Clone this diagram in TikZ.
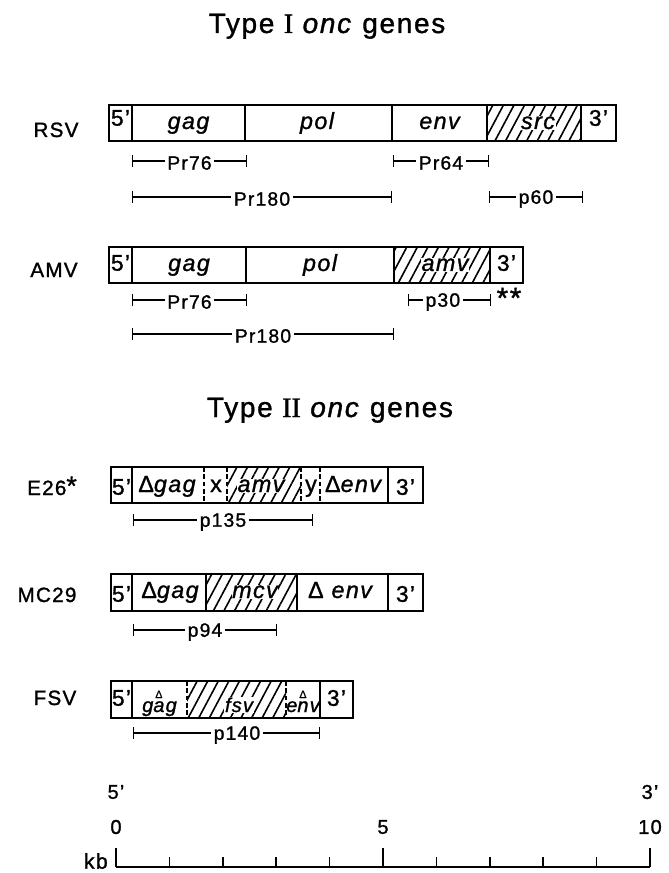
\documentclass[tikz,border=0pt]{standalone}
\usepackage{fontspec}
\setmainfont{Liberation Sans}[LetterSpace=6,FakeBold=1.2]
\newfontfamily\romanI{Liberation Serif}[FakeBold=1.2]
\usetikzlibrary{arrows.meta,patterns.meta}

\newlength\dwd
\newcommand\delover[1]{%
  \settowidth\dwd{#1}%
  \rlap{\raisebox{0.7em}{\makebox[\dwd]{\upshape\fontsize{8}{8}\selectfont Δ}}}#1}

\begin{document}
\begin{tikzpicture}[
    x=0.75pt,
    y=-0.75pt,
    box/.style={draw=black,line width=1.4pt},
    hatch/.style={pattern={Lines[angle=62,distance=7pt,line width=1.2pt]}},
    cut/.style={line width=1.4pt},
    dcut/.style={line width=1.4pt,dash pattern=on 3.5pt off 2pt},
    virus/.style={font=\fontsize{15.5}{18}\selectfont,anchor=base},
    gene/.style={font=\fontsize{17.5}{20}\selectfont\itshape,anchor=base,inner sep=0.5pt},
    sgene/.style={font=\fontsize{15}{18}\selectfont\itshape,anchor=base,inner sep=0.5pt},
    plain/.style={font=\fontsize{17.5}{20}\selectfont,anchor=base,inner sep=0.5pt},
    onhatch/.style={fill=white},
    ltr/.style={font=\fontsize{17}{19}\selectfont,inner sep=0pt},
    prot/.style={font=\fontsize{14.5}{16}\selectfont,fill=white,inner xsep=2pt,inner ysep=0pt,yshift=-1.5pt},
    span/.style={line width=1.1pt,{Bar[width=9pt]}-{Bar[width=9pt]}},
    heading/.style={font=\fontsize{21}{24}\selectfont,anchor=base},
    scl/.style={font=\fontsize{15}{17}\selectfont,inner sep=0pt}
]

\useasboundingbox (0,0) rectangle (668,873);

\node[heading] (typeI) at (327,33) {Type {\romanI I} \textit{onc} genes};

% RSV
\path[hatch] (487,105) rectangle (581,141);
\draw[box] (109,105) rectangle (616,141);
\foreach \cx in {132,245,392,487,581}
    \draw[cut] (\cx,105) -- (\cx,141);

\node[virus] (rsv) at (56,137) {RSV};
\node[ltr] (rsv5) at (120.5,118) {5'};
\node[gene] (rsvgag) at (188.5,129) {gag};
\node[gene] (rsvpol) at (317,129) {pol};
\node[gene] (rsvenv) at (439.5,129) {env};
\node[gene,onhatch] (rsvsrc) at (538,129) {src};
\node[ltr] (rsv3) at (598.5,118) {3'};

\draw[span] (132,161) -- node[prot] (rsvpr76) {Pr76} (247,161);
\draw[span] (393,161) -- node[prot] (rsvpr64) {Pr64} (489,161);
\draw[span] (132,197) -- node[prot] (rsvpr180) {Pr180} (392,197);
\draw[span] (489,197) -- node[prot] (rsvp60) {p60} (583,197);

% AMV
\path[hatch] (394,247) rectangle (490,283);
\draw[box] (109,247) rectangle (523,283);
\foreach \cx in {132,246,394,490}
    \draw[cut] (\cx,247) -- (\cx,283);

\node[virus] (amv) at (54,277) {AMV};
\node[ltr] (amv5) at (120.5,263) {5'};
\node[gene] (amvgag) at (189,271) {gag};
\node[gene] (amvpol) at (320,271) {pol};
\node[gene,onhatch] (amvamv) at (445,271) {amv};
\node[ltr] (amv3) at (506.5,263) {3'};

\draw[span] (132,300) -- node[prot] (amvpr76) {Pr76} (247,300);
\draw[span] (408,300) -- node[prot,pos=0.42] (amvp30) {p30} (491,300);
\draw[span] (132,334) -- node[prot] (amvpr180) {Pr180} (394,334);
\node[font=\fontsize{22}{22}\selectfont,anchor=base,inner sep=0pt] (stars) at (509,308) {**};

\node[heading] (typeII) at (330,417) {Type {\romanI II} \textit{onc} genes};

% E26
\path[hatch] (227,467) rectangle (301,503);
\draw[box] (111,467) rectangle (423,503);
\foreach \cx in {132,388}
    \draw[cut] (\cx,467) -- (\cx,503);
\foreach \cx in {204,227,301,320}
    \draw[dcut] (\cx,467) -- (\cx,503);

\node[virus] (e26) at (52,495) {E26{\fontsize{20}{20}\selectfont *}};
\node[ltr] (e265) at (121.5,487) {5'};
\node[gene] (e26gag) at (167,492) {{\upshape Δ}gag};
\node[plain] (e26x) at (216,492) {x};
\node[gene,onhatch] (e26amv) at (261,492) {amv};
\node[plain] (e26y) at (311,492) {y};
\node[gene] (e26env) at (353,492) {{\upshape Δ}env};
\node[ltr] (e263) at (405.5,487) {3'};

\draw[span] (133,520) -- node[prot] (e26p135) {p135} (313,520);

% MC29
\path[hatch] (206,574) rectangle (297,611);
\draw[box] (111,574) rectangle (423,611);
\foreach \cx in {132,206,297,388}
    \draw[cut] (\cx,574) -- (\cx,611);

\node[virus] (mc29) at (47,602) {MC29};
\node[ltr] (mc295) at (121.5,594) {5'};
\node[gene] (mc29gag) at (170,598) {{\upshape Δ}gag};
\node[gene,onhatch] (mc29mcv) at (255,598) {mcv};
\node[gene] (mc29env) at (340,598) {{\upshape Δ} env};
\node[ltr] (mc293) at (405.5,594) {3'};

\draw[span] (133,630) -- node[prot] (mc29p94) {p94} (277,630);

% FSV
\path[hatch] (187,681) rectangle (286,718);
\draw[box] (111,681) rectangle (353,718);
\foreach \cx in {132,320}
    \draw[cut] (\cx,681) -- (\cx,718);
\foreach \cx in {187,286}
    \draw[dcut] (\cx,681) -- (\cx,718);

\node[virus] (fsv) at (55,705) {FSV};
\node[ltr] (fsv5) at (121.5,698) {5'};
\node[sgene] (fsvgag) at (159.5,712) {g\delover{a}g};
\node[sgene,onhatch] (fsvfsv) at (239,712) {fsv};
\node[sgene] (fsvenv) at (303,712) {e\delover{n}v};
\node[ltr] (fsv3) at (336.5,698) {3'};

\draw[span] (133,733) -- node[prot,pos=0.556] (fsvp140) {p140} (320,733);

% scale
\draw[line width=1.3pt] (116,867) -- (650,867);
\foreach \k in {1,2,3,4,6,7,8,9}
    \draw[line width=1.3pt] ({116+53.4*\k},867) -- ({116+53.4*\k},857);
\foreach \k in {0,5,10}
    \draw[line width=1.3pt] ({116+53.4*\k},867) -- ({116+53.4*\k},848);

\node[scl] (end5) at (116,792) {5'};
\node[scl] (end3) at (650,792) {3'};
\node[scl] (kb0) at (116,827) {0};
\node[scl] (kb5) at (383,827) {5};
\node[scl] (kb10) at (650,827) {10};
\node[scl,anchor=east,font=\fontsize{16}{18}\selectfont] (kb) at (108,861) {kb};

\end{tikzpicture}
\end{document}
